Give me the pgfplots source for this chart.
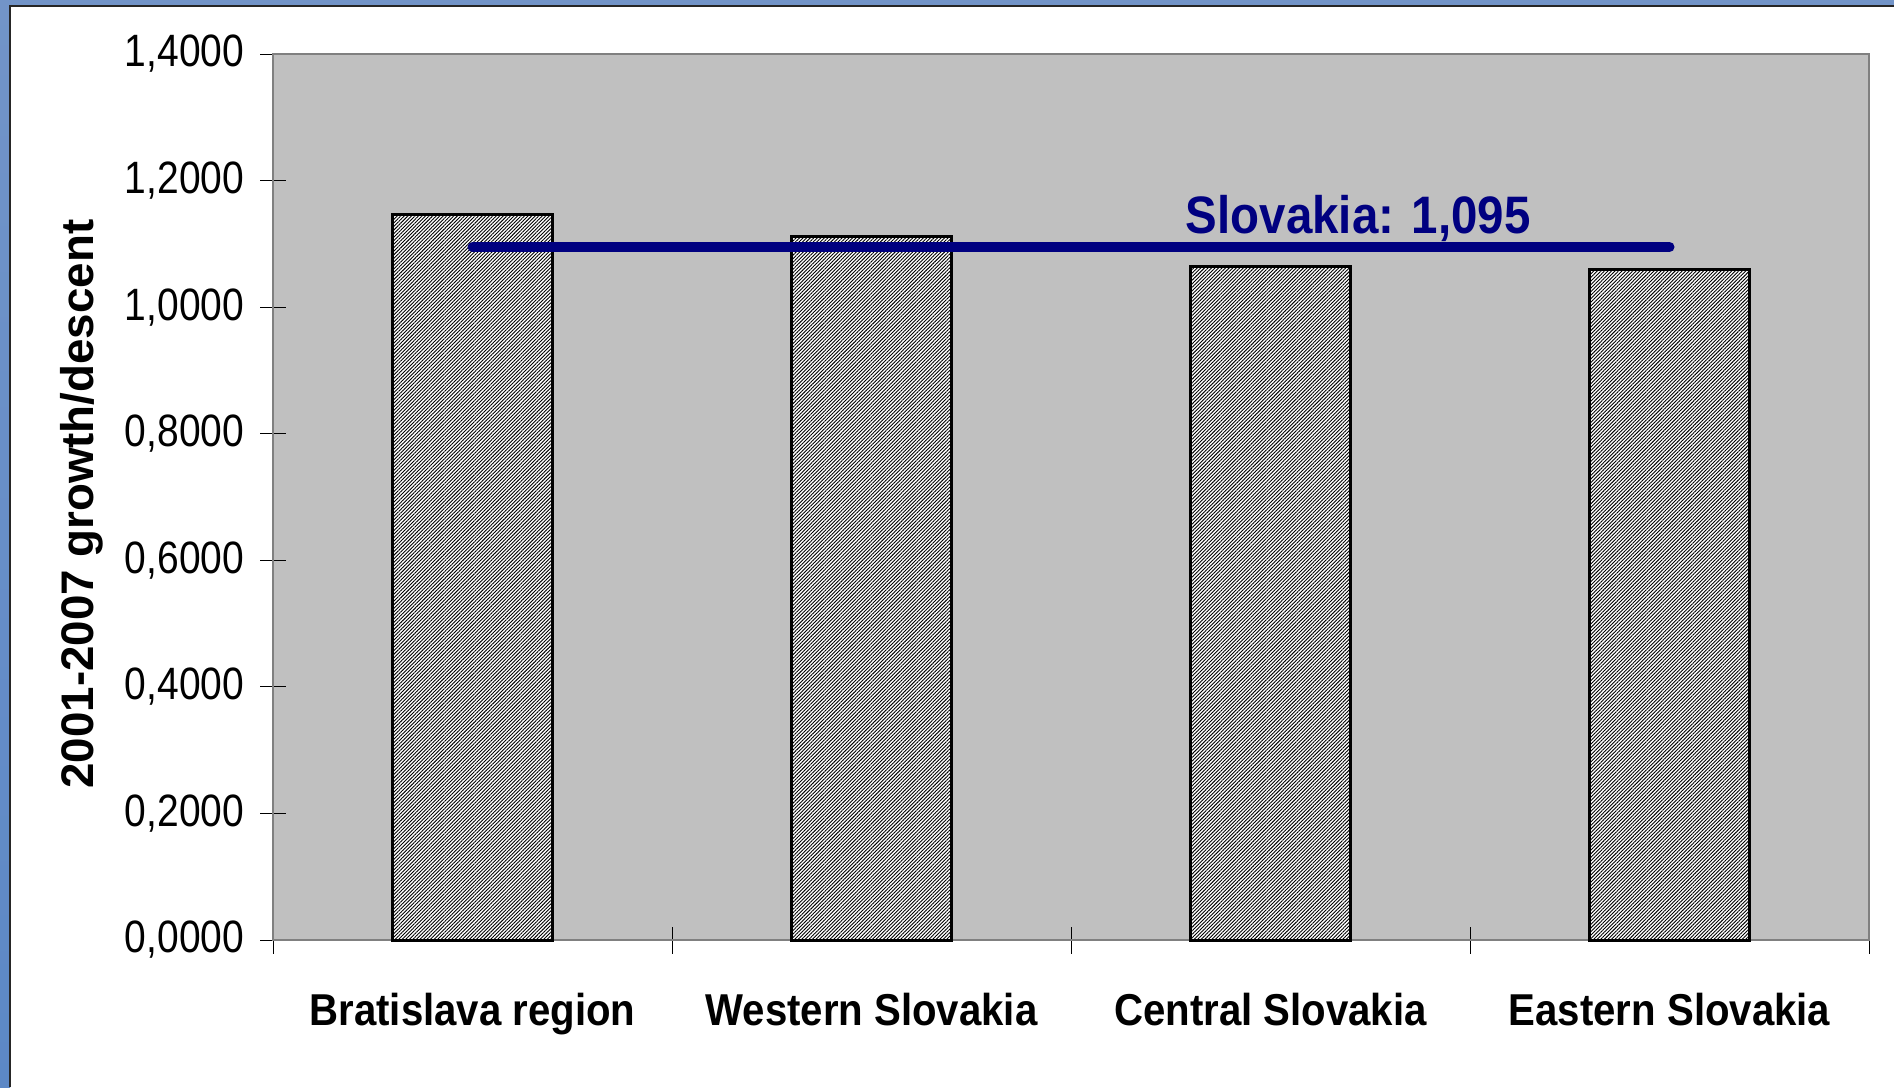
\documentclass[border=0pt]{standalone}
\usepackage{fontspec}
\setmainfont{Liberation Sans}
\newfontfamily\ticksfont{Liberation Sans}[FakeStretch=0.86]
\newfontfamily\catfont{Liberation Sans Bold}[FakeStretch=0.9]
\usepackage{pgfplots}
\pgfplotsset{compat=1.18}
\usetikzlibrary{patterns.meta}
\definecolor{navyline}{HTML}{000080}
\definecolor{plotgray}{HTML}{C0C0C0}
\definecolor{frametop}{HTML}{7294C8}
\definecolor{framemid}{HTML}{AFC3E3}
\definecolor{framebot}{HTML}{5C88C6}
\begin{document}
\begin{tikzpicture}
\useasboundingbox (0,0) rectangle (189.4mm,108.7mm);
\fill[white] (0,0) rectangle (189.4mm,108.7mm);
\shade[top color=frametop, middle color=framemid, bottom color=framebot] (0,0) rectangle (1mm,108.7mm);
\fill[frametop] (0,108.1mm) rectangle (189.4mm,108.7mm);
\draw[black!85, line width=0.25mm] (1mm,0) -- (1mm,108.1mm) -- (189.4mm,108.1mm);
\begin{axis}[
  at={(27.3mm,14.7mm)}, anchor=south west,
  scale only axis, width=159.6mm, height=88.6mm,
  xmin=-0.5, xmax=3.5, ymin=0, ymax=1.4,
  axis background/.style={fill=plotgray},
  axis line style={draw=black!50, line width=0.25mm},
  tick align=center,
  xtick pos=bottom, ytick pos=left,
  major tick length=2.5mm, minor tick length=2.7mm,
  xtick={0,1,2,3},
  xticklabels={Bratislava region, Western Slovakia, Central Slovakia, Eastern Slovakia},
  major x tick style={draw=none},
  minor xtick={-0.5,0.5,1.5,2.5,3.5},
  minor x tick style={draw=black, line width=0.1mm},
  ytick={0,0.2,0.4,0.6,0.8,1.0,1.2,1.4},
  ytick style={draw=black, line width=0.1mm},
  /pgf/number format/assume math mode=true,
  yticklabel style={font=\fontsize{12.9}{15}\ticksfont, xshift=-0.4mm,
    /pgf/number format/.cd, fixed, fixed zerofill, precision=4, use comma},
  xticklabel style={font=\fontsize{12.7}{15}\catfont, anchor=base, yshift=-7.25mm},
  ylabel={2001-2007 growth/descent},
  ylabel style={font=\fontsize{13}{15}\bfseries, at={(axis description cs:-0.1197,0.492)}, anchor=center},
  bar width=16mm,
  clip=false,
]
\addplot[ybar, draw=black, line width=0.3mm, fill=white,
  postaction={pattern={Lines[angle=45,distance=0.25mm,line width=0.09mm]}, pattern color=black}]
  coordinates {(0,1.146) (1,1.112) (2,1.065) (3,1.059)};
\addplot[navyline, line width=1mm, line cap=round] coordinates {(0,1.095) (3,1.095)};
\node[navyline, font=\fontsize{15}{18}\catfont, anchor=base] at (axis cs:2.22,1.117) {Slovakia: 1,095};
\end{axis}
\end{tikzpicture}
\end{document}
